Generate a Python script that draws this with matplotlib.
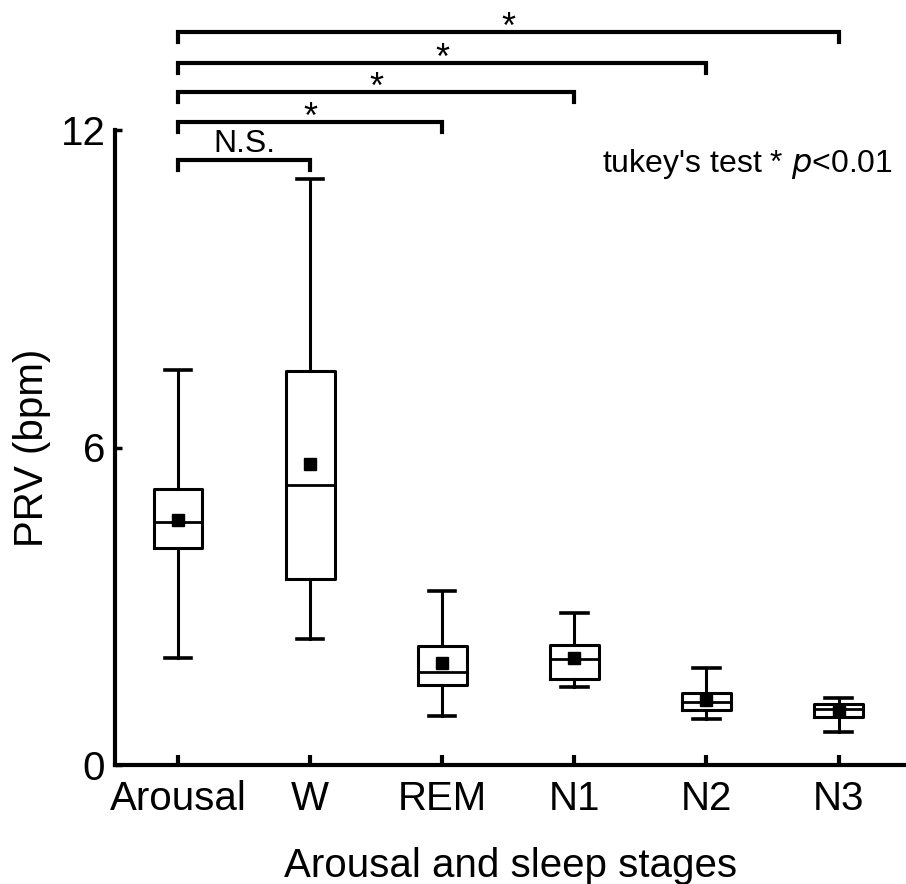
import matplotlib
matplotlib.use("Agg")
import matplotlib.pyplot as plt

plt.rcParams['font.family'] = ['Liberation Sans', 'DejaVu Sans']

# box statistics (bpm)
stages = ['Arousal', 'W', 'REM', 'N1', 'N2', 'N3']
whislo = [2.02, 2.38, 0.93, 1.48, 0.87, 0.62]
q1 = [4.10, 3.51, 1.51, 1.62, 1.04, 0.91]
med = [4.60, 5.29, 1.76, 2.00, 1.20, 1.05]
q3 = [5.22, 7.45, 2.25, 2.27, 1.36, 1.15]
whishi = [7.47, 11.08, 3.28, 2.87, 1.84, 1.27]
means = [4.63, 5.68, 1.93, 2.02, 1.23, 1.04]

# comparisons against Arousal: (other group index, label, bracket height)
comparisons = [(1, 'N.S.', 11.44), (2, '*', 12.15), (3, '*', 12.72),
               (4, '*', 13.27), (5, '*', 13.86)]

fig = plt.figure(figsize=(9.06, 8.84), dpi=100)
ax = fig.add_axes([115 / 906, 1 - 765 / 884, 1 - 115 / 906, (765 - 130) / 884])

stats = []
for i, name in enumerate(stages):
    stats.append(dict(label=name, whislo=whislo[i], q1=q1[i], med=med[i],
                      q3=q3[i], whishi=whishi[i], mean=means[i], fliers=[]))

ax.bxp(stats, positions=range(len(stages)), widths=0.37, showmeans=True,
       showfliers=False, patch_artist=False,
       boxprops=dict(color='black', linewidth=2.2),
       medianprops=dict(color='black', linewidth=2.0),
       whiskerprops=dict(color='black', linewidth=2.2),
       capprops=dict(color='black', linewidth=2.6),
       capwidths=0.2,
       meanprops=dict(marker='s', markerfacecolor='black',
                      markeredgecolor='black', markersize=8.5))

ax.set_xlim(-0.477, 5.51)
ax.set_ylim(0, 12)
ax.set_yticks([0, 6, 12])
ax.set_xticks(range(len(stages)))
ax.set_xticklabels(stages)

for side in ['top', 'right']:
    ax.spines[side].set_visible(False)
for side in ['left', 'bottom']:
    ax.spines[side].set_linewidth(3)

ax.tick_params(axis='x', direction='in', length=7, width=3, pad=10.5,
               labelsize=29)
ax.tick_params(axis='y', direction='in', length=5, width=2.5, pad=7,
               labelsize=29)

ax.set_xlabel('Arousal and sleep stages', fontsize=29, labelpad=21)
ax.set_ylabel('PRV (bpm)', fontsize=29, labelpad=7)

# significance brackets
drop = 0.19
for j, txt, h in comparisons:
    ax.plot([0, 0, j, j], [h - drop, h, h, h - drop], color='black',
            linewidth=3, clip_on=False, solid_joinstyle='miter')
    mid = j / 2
    if txt == '*':
        ax.annotate(txt, (mid, h), xytext=(0, -4.5), textcoords='offset points',
                    ha='center', va='baseline', fontsize=26,
                    annotation_clip=False)
    else:
        ax.annotate(txt, (mid, h), xytext=(0, 5.5), textcoords='offset points',
                    ha='center', va='baseline', fontsize=23,
                    annotation_clip=False)

fig.text(893 / 906, 1 - 172 / 884, "tukey's test * $\\it{p}$<0.01",
         ha='right', va='baseline', fontsize=23)

fig.savefig('out.png', dpi=100)
